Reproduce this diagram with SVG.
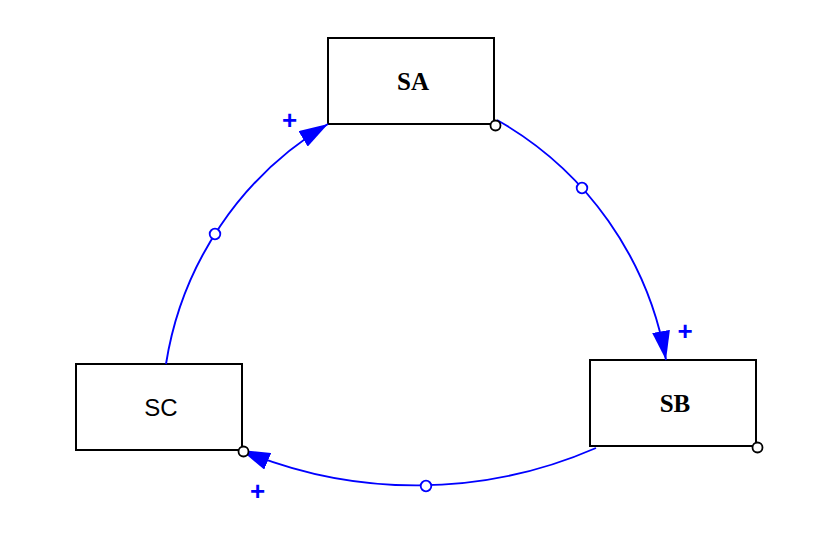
<svg xmlns="http://www.w3.org/2000/svg" width="828" height="542" viewBox="0 0 828 542">
<style>
.box{fill:#fff;stroke:#000;stroke-width:2}
.mono{font-family:"Liberation Serif","Times New Roman",serif;font-weight:700;font-size:25px;fill:#000;text-anchor:middle}
.sans{font-family:"Liberation Sans",Arial,sans-serif;font-size:24px;fill:#000;text-anchor:middle}
.edge{fill:none;stroke:#0000ff;stroke-width:1.9;marker-end:url(#arr)}
.dot{fill:#fff;stroke:#0000ff;stroke-width:1.8}
.port{fill:#fff;stroke:#000;stroke-width:1.8}
.plus{font-family:"Liberation Sans",Arial,sans-serif;font-weight:bold;font-size:26px;fill:#0000ff;text-anchor:middle}
</style>
<defs>
<marker id="arr" markerUnits="userSpaceOnUse" viewBox="0 0 29 18" markerWidth="29" markerHeight="18" refX="29" refY="9" orient="auto">
<path d="M0,0 L29,9 L0,18 z" fill="#0000ff"/>
</marker>
</defs>
<rect width="828" height="542" fill="#fff"/>
<g id="SA"><rect class="box" x="328" y="38" width="166" height="86"/><text class="mono" x="413" y="90">SA</text></g>
<g id="SB"><rect class="box" x="590" y="360" width="166" height="86"/><text class="mono" x="675" y="412">SB</text></g>
<g id="SC"><rect class="box" x="76" y="364" width="166" height="86"/><text class="sans" x="161" y="416">SC</text></g>
<g id="connectors">
<path class="edge" d="M497,120 A343.3,343.3 0 0,1 666,360"/>
<path class="edge" d="M596,448 A450.8,450.8 0 0,1 241,450"/>
<path class="edge" d="M166,364 A341,341 0 0,1 328,124"/>
<circle class="dot" cx="582" cy="188" r="5.3"/>
<circle class="dot" cx="426" cy="486" r="5.3"/>
<circle class="dot" cx="215" cy="234" r="5.3"/>
<circle class="port" cx="495.5" cy="125.5" r="5"/>
<circle class="port" cx="757.5" cy="447.5" r="5"/>
<circle class="port" cx="243.5" cy="451.5" r="5"/>
<text class="plus" x="289.5" y="129">+</text>
<text class="plus" x="685" y="340">+</text>
<text class="plus" x="257.5" y="500">+</text>
</g>
</svg>
